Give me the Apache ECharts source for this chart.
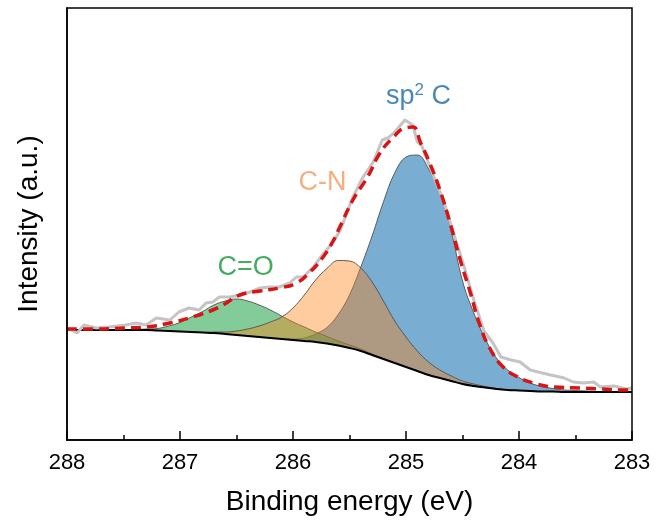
<!DOCTYPE html>
<html>
<head>
<meta charset="utf-8">
<script src="https://cdn.jsdelivr.net/npm/echarts@6/dist/echarts.min.js"></script>
<style>html,body{margin:0;padding:0;background:#fff}#c{width:656px;height:528px}</style>
</head>
<body>
<div id="c"></div>
<script>
// Common energy grid (eV) for the fitted components
const energy = [288.0,287.9,287.8,287.7,287.6,287.5,287.4,287.3,287.2,287.1,287.0,286.9,286.8,286.7,286.6,286.5,286.4,286.3,286.2,286.1,286.0,285.9,285.8,285.7,285.6,285.5,285.4,285.3,285.2,285.1,285.0,284.9,284.8,284.7,284.6,284.5,284.4,284.3,284.2,284.1,284.0,283.9,283.8,283.7,283.6,283.5,283.4,283.3,283.2,283.1,283.0];
// Shirley background
const background = [110,110,110,110,110,110,110,110,109.5,109,108.5,108,107.5,107,106,105,104,103,102,101,100,99,98,96.5,94.5,92,89,85,81,77,73,69,65,62,59,56,54,52.5,51,50,49.5,49,48.5,48.5,48,48,48,48,48,48,48];
// Component intensities above background
const sp2C = [0,0,0,0,0,0,0,0,0,0,0,0,0,0,0,0,0,0,0,0,1,3,8,16,31,53,84,119,157,190,210,216,206,185,150,103,73,49,31,20,13,8,5,3,2,1.5,1,0.5,0,0,0];
const cN = [0,0,0,0,0,0,0,0,0,0,0,0,0,1,2,4,7,11,16,22,32,46,62,75,85,87,83,73,58,42,30,20,13,8,5,3,2,1,0.5,0,0,0,0,0,0,0,0,0,0,0,0];
const cO = [0,0,0,0,0,0,0.5,1,2,5,9,15,21,28,33,36,35,32,28,23,18,14,10,7,4.5,3,2,1,0.5,0,0,0,0,0,0,0,0,0,0,0,0,0,0,0,0,0,0,0,0,0,0];
// Measured spectrum [eV, intensity]
const measured = [[288.0,112],[287.91,107],[287.85,115],[287.74,112],[287.63,113],[287.48,115],[287.39,117],[287.30,115],[287.21,122],[287.09,120],[287.01,128],[286.92,132],[286.83,130],[286.77,137],[286.71,138],[286.65,143],[286.56,143],[286.47,145],[286.38,148],[286.29,152],[286.21,153],[286.12,153],[286.03,157],[285.97,163],[285.91,163],[285.82,173],[285.74,185],[285.65,197],[285.58,210],[285.47,243],[285.38,263],[285.29,278],[285.21,300],[285.16,302],[285.10,308],[285.01,320],[284.94,315],[284.90,298],[284.86,294],[284.76,265],[284.67,240],[284.58,207],[284.49,175],[284.40,140],[284.31,109],[284.23,97],[284.16,83],[284.07,80],[283.99,78],[283.90,70],[283.83,68],[283.72,65],[283.60,62],[283.52,58],[283.43,57],[283.34,58],[283.28,53],[283.16,54],[283.05,51],[283.0,52]];
// Fitted envelope [eV, intensity]
const envelope = [[288.0,111],[287.78,111],[287.48,112],[287.30,113],[287.09,117],[286.89,123],[286.71,130],[286.62,135],[286.47,145],[286.29,149],[286.12,152],[285.97,157],[285.85,168],[285.74,182],[285.65,198],[285.59,212],[285.47,240],[285.34,263],[285.23,287],[285.11,303],[285.01,312],[284.94,313],[284.87,297],[284.79,277],[284.70,250],[284.61,217],[284.52,180],[284.43,147],[284.34,113],[284.25,90],[284.14,73],[284.01,63],[283.87,57],[283.69,53],[283.45,52],[283.28,51],[283.05,50],[283.0,50]];
const xTicks = [288,287,286,285,284,283];

const FONT = "'Liberation Sans', Arial, sans-serif";
const bgPoints = energy.map((e, i) => [e, background[i]]);
const onBackground = (arr) => energy.map((e, i) => [e, background[i] + arr[i]]);

function component(arr, fill, z) {
  return { type: 'line', data: onBackground(arr), symbol: 'none', smooth: 0.4, silent: true,
    lineStyle: { color: '#505050', width: 1, opacity: 0.9 },
    areaStyle: { color: fill, opacity: 1 }, z: z };
}
function textMark(pos, text, color, rich) {
  return { type: 'scatter', data: [pos], symbolSize: 0, silent: true, z: 10,
    label: { show: true, position: 'inside', formatter: text, color: color,
      textBorderWidth: 0, fontSize: 27, fontFamily: FONT, rich: rich } };
}

const chart = echarts.init(document.getElementById('c'));
chart.setOption({
  animation: false,
  grid: { left: 67, right: 24, top: 8, bottom: 88, show: true, borderColor: '#000', borderWidth: 1.5, z: 20 },
  xAxis: {
    type: 'value', min: 283, max: 288, interval: 1, inverse: true, z: 20,
    axisLine: { show: true, lineStyle: { color: '#000', width: 1.5 } },
    axisTick: { show: true, inside: true, length: 9, lineStyle: { color: '#000', width: 1.5 } },
    minorTick: { show: true, splitNumber: 2, length: 5, lineStyle: { color: '#000', width: 1.5 } },
    splitLine: { show: false },
    axisLabel: { color: '#000', fontSize: 22, fontFamily: FONT, margin: 12,
      formatter: (v) => xTicks.includes(v) ? String(v) : '' },
    name: 'Binding energy (eV)', nameLocation: 'middle', nameGap: 48,
    nameTextStyle: { color: '#000', fontSize: 28, fontFamily: FONT }
  },
  yAxis: {
    type: 'value', min: 0, max: 432, z: 20,
    axisLine: { show: true, lineStyle: { color: '#000', width: 1.5 } },
    axisTick: { show: false }, axisLabel: { show: false }, splitLine: { show: false },
    name: 'Intensity (a.u.)', nameLocation: 'middle', nameGap: 24,
    nameTextStyle: { color: '#000', fontSize: 28, fontFamily: FONT }
  },
  series: [
    component(sp2C, 'rgba(31,119,180,0.6)', 2),
    component(cO, 'rgba(30,160,70,0.55)', 3),
    component(cN, 'rgba(255,127,14,0.4)', 4),
    { type: 'line', data: bgPoints, symbol: 'none', smooth: 0.4, silent: true,
      lineStyle: { color: '#000', width: 2 },
      areaStyle: { color: '#fff', opacity: 1 }, z: 5 },
    { type: 'line', data: measured, symbol: 'none', silent: true,
      lineStyle: { color: '#c4c4c4', width: 3 }, z: 6 },
    { type: 'line', data: envelope, symbol: 'none', smooth: true, silent: true,
      lineStyle: { color: '#d81414', width: 3.5, type: [10, 6] }, z: 7 },
    textMark([284.89, 343], '{a|sp}{s|2}{a| C}', '#1a6aa8',
      { a: { fontSize: 27, fontFamily: FONT, color: '#1a6aa8' },
        s: { fontSize: 17, fontFamily: FONT, color: '#1a6aa8', padding: [0, 0, 13, 0] } }),
    textMark([285.74, 257], 'C-N', '#f39a5c'),
    textMark([286.42, 172], 'C=O', '#17963a')
  ]
});
</script>
</body>
</html>
